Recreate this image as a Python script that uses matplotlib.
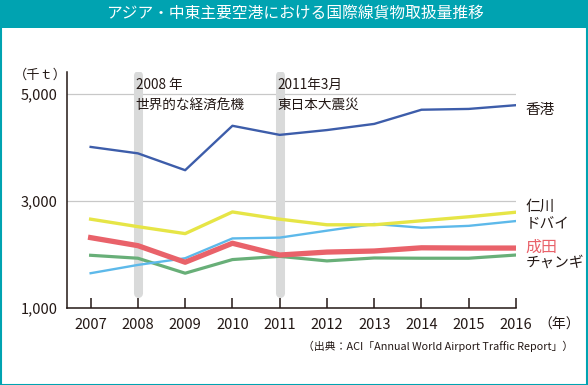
import matplotlib.pyplot as plt
from matplotlib.patches import Rectangle

plt.rcParams['font.family'] = ['Noto Sans CJK JP', 'DejaVu Sans']

years = [2007, 2008, 2009, 2010, 2011, 2012, 2013, 2014, 2015, 2016]
hongkong = [4010, 3890, 3575, 4405, 4235, 4325, 4440, 4705, 4720, 4790]
incheon = [2660, 2520, 2390, 2795, 2660, 2555, 2555, 2630, 2705, 2790]
dubai = [1650, 1805, 1930, 2300, 2315, 2445, 2570, 2500, 2535, 2625]
narita = [2315, 2165, 1855, 2210, 1990, 2045, 2065, 2125, 2120, 2120]
changi = [1985, 1930, 1650, 1905, 1965, 1880, 1935, 1930, 1930, 1990]

yticks = [1000, 3000, 5000]
ytick_labels = ['1,000', '3,000', '5,000']
events = [(2008, '2008 年\n世界的な経済危機'), (2011, '2011年3月\n東日本大震災')]

teal = '#00A3B1'
ink = '#231815'

fig = plt.figure(figsize=(5.88, 3.85), dpi=100)
ax = fig.add_axes([67/588, 1 - 308/385, (516 - 67)/588, (308 - 72)/385])

# header bar and frame
fig.patches.append(Rectangle((0, 1 - 28/385), 1, 28/385, transform=fig.transFigure,
                             facecolor=teal, edgecolor='none', zorder=0))
fig.patches.append(Rectangle((0.5/588, 0.5/385), 1 - 1.5/588, 1 - 1.5/385, transform=fig.transFigure,
                             facecolor='none', edgecolor=teal, linewidth=1.5, zorder=0))
fig.text(295/588, 1 - 14/385, 'アジア・中東主要空港における国際線貨物取扱量推移',
         color='white', fontsize=11.3, ha='center', va='center')

# event bars
for yr, label in events:
    ax.plot([yr, yr], [1280, 5350], color='#D9DADA', linewidth=6.5, solid_capstyle='round', zorder=1)
    ax.text(yr - 0.05, 5290, label, fontsize=9.8, color=ink, ha='left', va='top',
            linespacing=1.45, zorder=5)

for y in [3000, 5000]:
    ax.axhline(y, color='#C8C8C8', linewidth=0.9, zorder=0)

ax.plot(years, changi, color='#68AF78', linewidth=2.3, zorder=3)
ax.plot(years, dubai, color='#5DB9EA', linewidth=1.7, zorder=3)
ax.plot(years, incheon, color='#E6E546', linewidth=2.4, zorder=3)
ax.plot(years, narita, color='#E9626A', linewidth=3.8, zorder=4)
ax.plot(years, hongkong, color='#3D5DAA', linewidth=1.7, zorder=4)

# series labels
series_labels = [('香港', 4700, ink, 10.5), ('仁川', 2890, ink, 10.5), ('ドバイ', 2570, ink, 10.5),
                 ('成田', 2140, '#E9626A', 11.5), ('チャンギ', 1840, ink, 10.5)]
for text, yv, col, fs in series_labels:
    ax.text(2016.2, yv, text, color=col, fontsize=fs, ha='left', va='center', clip_on=False)

ax.set_xlim(2006.5, 2016)
ax.set_ylim(1000, 5410)
ax.set_xticks(years)
ax.set_xticklabels([str(y) for y in years], fontsize=10.5, color=ink)
ax.set_yticks(yticks)
ax.set_yticklabels(ytick_labels, fontsize=10.5, color=ink)
ax.tick_params(axis='x', direction='in', length=7, width=1.1, color=ink, pad=7)
ax.tick_params(axis='y', length=0, pad=7)
for side in ['top', 'right']:
    ax.spines[side].set_visible(False)
for side in ['left', 'bottom']:
    ax.spines[side].set_color(ink)
    ax.spines[side].set_linewidth(1.1)

fig.text(40/588, 1 - 75/385, '（千ｔ）', fontsize=9.5, color=ink, ha='center', va='center')
fig.text(559/588, 1 - 325/385, '（年）', fontsize=10, color=ink, ha='center', va='center')
fig.text(573/588, 1 - 346/385, '（出典：ACI「Annual World Airport Traffic Report」）',
         fontsize=7.8, color=ink, ha='right', va='center')

fig.savefig('out.png', dpi=100)
